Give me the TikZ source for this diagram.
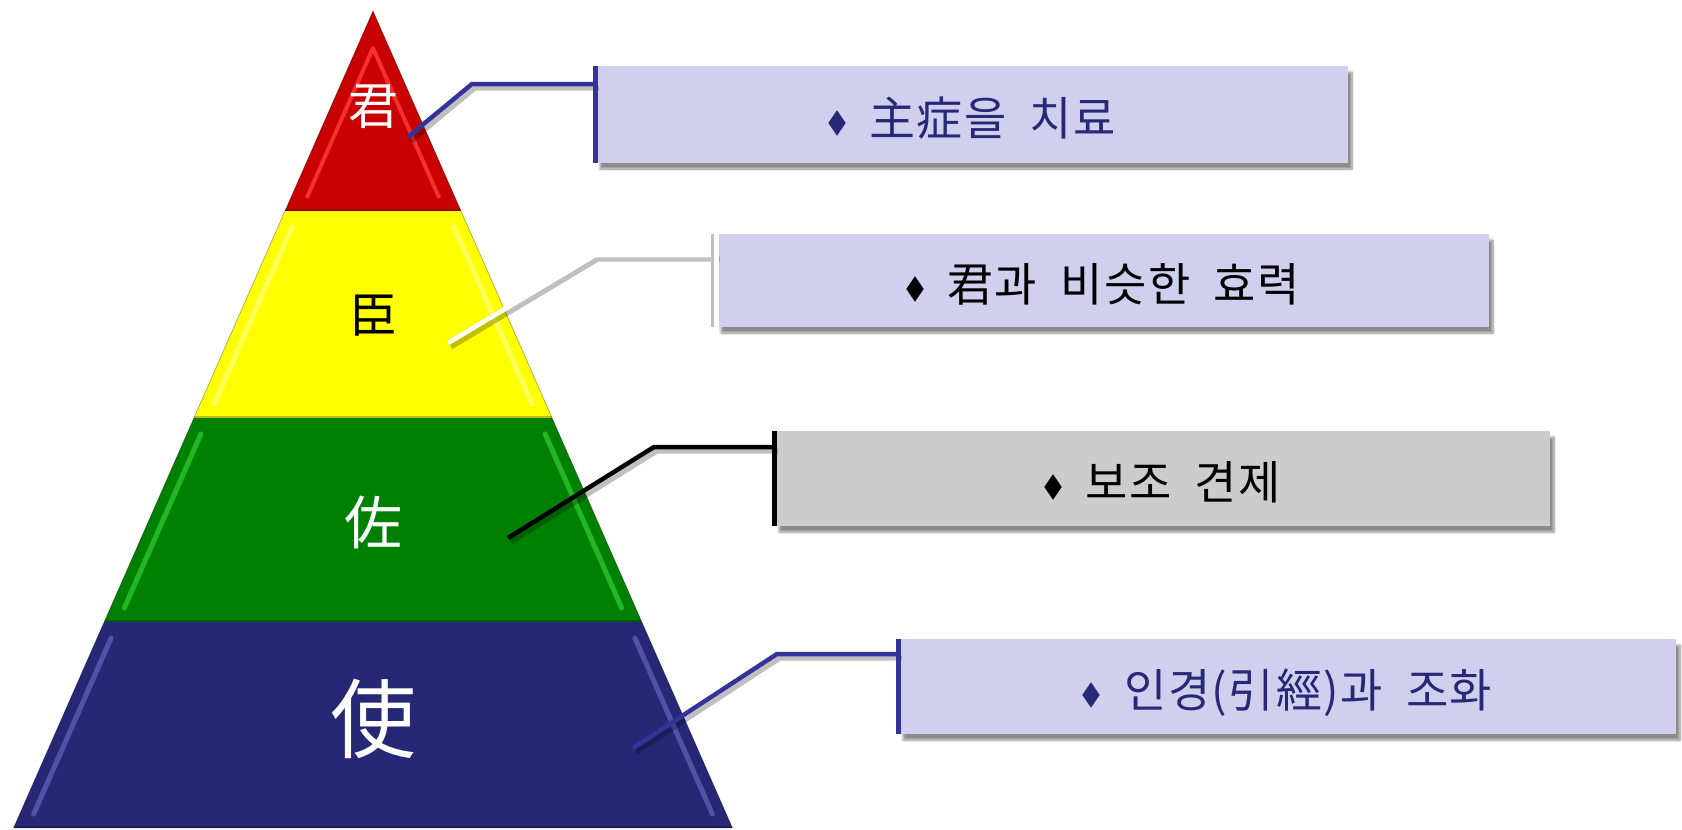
\documentclass[tikz,border=0pt]{standalone}
\usepackage{fontspec}
\usepackage{graphicx}
\setmainfont{Noto Sans CJK KR}[WordSpace=2.2]
\newfontfamily\boxfont{Noto Sans CJK KR}[WordSpace=2.0, LetterSpace=3]
\usetikzlibrary{calc,shadows.blur}
\definecolor{redT}{RGB}{200,0,0}
\definecolor{redH}{RGB}{255,60,60}
\definecolor{yelT}{RGB}{255,255,0}
\definecolor{grnT}{RGB}{0,128,0}
\definecolor{grnH}{RGB}{60,220,60}
\definecolor{navT}{RGB}{38,40,118}
\definecolor{navH}{RGB}{110,110,200}
\definecolor{lav}{RGB}{208,208,238}
\definecolor{grayB}{RGB}{204,204,204}
\definecolor{blueL}{RGB}{51,51,153}
\definecolor{navText}{RGB}{40,40,120}
\newcommand\xL[1]{373-0.44*(#1-11)}
\newcommand\xR[1]{373+0.44*(#1-11)}
\newcommand\pyrtier[5]{%
  \fill[#3] ({\xL{#1}},#1) -- ({\xR{#1}},#1) -- ({\xR{#2}},#2) -- ({\xL{#2}},#2) -- cycle;
  \draw[#4, line width=5pt, opacity=#5, line cap=round] ({\xL{#1+16}+14},#1+16) -- ({\xL{#2-14}+14},#2-14);
  \draw[#4, line width=5pt, opacity=#5, line cap=round] ({\xR{#1+16}-14},#1+16) -- ({\xR{#2-14}-14},#2-14);
  \draw[black, opacity=0.25, line width=2pt] ({\xL{#2-1}},#2-1) -- ({\xR{#2-1}},#2-1);
  \draw[black, opacity=0.3, line width=0.8pt] ({\xL{#1}},#1) -- ({\xL{#2}},#2) ({\xR{#1}},#1) -- ({\xR{#2}},#2);
}
\newcommand\dia{{\fontsize{24}{24}\selectfont\raisebox{2pt}{\scalebox{0.75}[1.1]{◆}}}}
\newcommand\boxtext[1]{\raisebox{-21pt}[0pt][0pt]{\dia\ #1}}
\tikzset{
  infobox/.style={rectangle, inner sep=0pt, font=\boxfont\fontsize{46}{52}\selectfont,
    blur shadow={shadow xshift=4pt, shadow yshift=-6pt, shadow blur steps=8, shadow opacity=45}},
  conn/.style={line width=4.5pt},
  connshadow/.style={line width=5pt, draw=black, opacity=0.25, transform canvas={xshift=3pt,yshift=-4pt}},
  border/.style={line width=5pt},
  tierlabel/.style={inner sep=0pt}
}
\begin{document}
\begin{tikzpicture}[x=1pt,y=-1pt]
\useasboundingbox (0,0) rectangle (1682,830);
% pyramid
\fill[redT] (373,11) -- ({\xR{211}},211) -- ({\xL{211}},211) -- cycle;
\draw[redH, line width=4pt, opacity=0.8, line join=round] ({\xL{198}+16},198) -- (373,48) -- ({\xR{198}-16},198);
\draw[black, opacity=0.25, line width=2pt] ({\xL{210}},210) -- ({\xR{210}},210);
\draw[black, opacity=0.3, line width=0.8pt] ({\xL{211}},211) -- (373,11) -- ({\xR{211}},211);
\pyrtier{211}{418}{yelT}{white}{0.35}
\pyrtier{418}{622}{grnT}{grnH}{0.6}
\pyrtier{622}{828}{navT}{navH}{0.6}
\node[tierlabel, text=white, font=\fontsize{50}{50}\selectfont] (t1) at (373,107) {君};
\node[tierlabel, text=black, font=\fontsize{48}{48}\selectfont] (t2) at (373,316) {臣};
\node[tierlabel, text=white, font=\fontsize{58}{58}\selectfont] (t3) at (373,522) {佐};
\node[tierlabel, text=white, font=\fontsize{86}{86}\selectfont] (t4) at (373,719) {使};
% boxes
\node[infobox, fill=lav, minimum width=752pt, minimum height=97pt, text=navText] (box1) at (972,114.5) {\boxtext{主症을 치료}};
\node[infobox, fill=lav, minimum width=772pt, minimum height=93pt, text=black] (box2) at (1103,280.5) {\boxtext{君과 비슷한 효력}};
\node[infobox, fill=grayB, minimum width=775pt, minimum height=95pt, text=black] (box3) at (1162.5,478.5) {\boxtext{보조 견제}};
\node[infobox, fill=lav, minimum width=777pt, minimum height=95pt, text=navText] (box4) at (1287.5,686.5) {\boxtext{인경(引經)과 조화}};
% connector points
\coordinate (s1) at (408,137); \coordinate (b1) at (472,84);
\coordinate (s2) at (448,343); \coordinate (b2) at (595,255);
\coordinate (s3) at (508,538); \coordinate (b3) at (654,447);
\coordinate (s4) at (633,748); \coordinate (b4) at (777,654);
% connector shadows
\draw[connshadow] (s1) -- (b1) -- (b1 -| box1.west);
\draw[connshadow] (s2) -- (b2) -- (b2 -| box2.west);
\draw[connshadow] (s3) -- (b3) -- (b3 -| box3.west);
\draw[connshadow] (s4) -- (b4) -- (b4 -| box4.west);
% connectors
\draw[conn, blueL] (s1) -- (b1) -- (b1 -| box1.west);
\draw[conn, white] (s2) -- (b2) -- (b2 -| box2.west);
\draw[conn, black] (s3) -- (b3) -- (b3 -| box3.west);
\draw[conn, blueL] (s4) -- (b4) -- (b4 -| box4.west);
% box left borders
\draw[border, blueL] (box1.north west) -- (box1.south west);
\draw[border, black!25, transform canvas={xshift=-3pt}] (box2.north west) -- (box2.south west);
\draw[border, white] (box2.north west) -- (box2.south west);
\draw[border, black] (box3.north west) -- (box3.south west);
\draw[border, blueL] (box4.north west) -- (box4.south west);
\end{tikzpicture}
\end{document}
